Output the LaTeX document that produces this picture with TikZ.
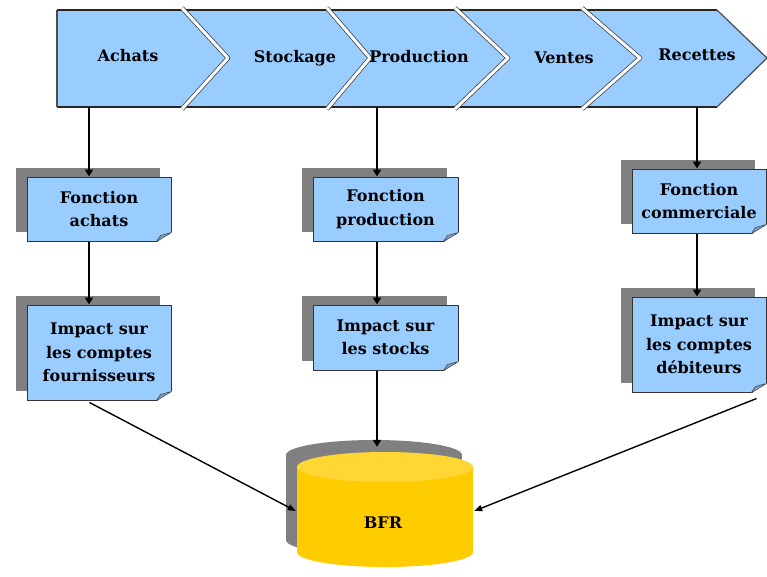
\documentclass[tikz,border=0pt]{standalone}
\usepackage{fontspec}
\setmainfont{DejaVu Serif}
\usetikzlibrary{arrows.meta,calc,shadows}
\definecolor{boxblue}{HTML}{99CCFF}
\definecolor{shgray}{HTML}{808080}
\definecolor{cylyel}{HTML}{FFCC00}
\definecolor{cyltop}{HTML}{FFD633}
\definecolor{folded}{HTML}{7FA3C8}
\begin{document}
\begin{tikzpicture}[x=1pt,y=-1pt,
  chev/.style={font=\bfseries\fontsize{16}{18}\selectfont, inner sep=1pt},
  boxstyle/.style={draw=black!80, line width=1pt, fill=boxblue, minimum width=144pt,
    minimum height=64pt, align=center, inner sep=2pt,
    font=\bfseries\fontsize{16}{23.5}\selectfont,
    general shadow={fill=shgray, shadow xshift=-11pt, shadow yshift=9pt}},
  arr/.style={line width=2.4pt, -{Triangle[length=7pt,width=8pt]}},
  darr/.style={line width=1.4pt, -{Triangle[length=8pt,width=6pt]}}]
\useasboundingbox (0,0) rectangle (767,576);

% chevron band
\fill[boxblue] (57,10) -- (717,10) -- (767,58) -- (717,107) -- (57,107) -- cycle;
\draw[line width=1.6pt, black!85] (57,10) -- (717,10);
\draw[line width=1.6pt, black!85] (57,107) -- (717,107);
\draw[line width=1.2pt, black!70] (717,10) -- (767,58) -- (717,107);
\draw[line width=1.2pt, black!70] (57,10) -- (57,107);
\foreach \a/\t in {182/228,327/370,455/508,582/640}{
  \draw[black!75, line width=4.5pt, line join=round] (\a,8) -- (\t,58) -- (\a,109);
  \draw[white, line width=3pt, line join=round] (\a,8) -- (\t,58) -- (\a,109);
}
\node[chev] (achats) at (128,56) {Achats};
\node[chev] (stock) at (295,58) {Stockage};
\node[chev] (prod) at (419,57) {Production};
\node[chev] (ventes) at (564,58) {Ventes};
\node[chev] (recettes) at (697,55) {Recettes};

\coordinate (c1) at (89,107);
\coordinate (c2) at (377,107);
\coordinate (c3) at (697,107);

% boxes
\node[boxstyle] (fa) at (99,209) {Fonction\\achats};
\node[boxstyle, minimum height=95pt] (ia) at (99,352.5) {Impact sur\\les comptes\\fournisseurs};
\node[boxstyle, minimum width=145pt] (fp) at (385.5,209) {Fonction\\production};
\node[boxstyle, minimum width=145pt, minimum height=65pt] (ip) at (385.5,337.5) {Impact sur\\les stocks};
\node[boxstyle, minimum width=134pt] (fc) at (699,201) {Fonction\\commerciale};
\node[boxstyle, minimum width=134pt, minimum height=95pt] (ic) at (699,344.5) {Impact sur\\les comptes\\débiteurs};

% folded corners
\foreach \n in {fa,ia,fp,ip,fc,ic}{
  \fill[white] ($(\n.south east)+(-15,1)$) -- ($(\n.south east)+(1,-10)$) -- ($(\n.south east)+(1,1)$) -- cycle;
  \filldraw[fill=folded, draw=black!70, line width=0.6pt, line join=round]
    ($(\n.south east)+(-15,0)$) -- ($(\n.south east)+(0,-9)$) -- ($(\n.south east)+(-11,-6)$) -- cycle;
}

% cylinder
\begin{scope}[shift={(-11,-12)}]
  \fill[shgray] (385,552) ellipse [x radius=88, y radius=15];
  \fill[shgray] (297,467) rectangle (473,552);
  \fill[shgray] (385,467) ellipse [x radius=88, y radius=15];
\end{scope}
\fill[cylyel] (385,552) ellipse [x radius=88, y radius=15];
\fill[cylyel] (297,467) rectangle (473,552);
\fill[cyltop] (385,467) ellipse [x radius=88, y radius=15];
\node[minimum width=178pt, minimum height=128pt, inner sep=0pt] (bfr) at (385,511) {};
\node[chev] (bfrtext) at (383,523) {BFR};

% connectors
\draw[arr] (c1) -- (c1 |- fa.north);
\draw[arr] (c1 |- fa.south) -- (c1 |- ia.north);
\draw[arr] (c2) -- (c2 |- fp.north);
\draw[arr] (c2 |- fp.south) -- (c2 |- ip.north);
\draw[arr] (c2 |- ip.south) -- (c2 |- bfr.north);
\draw[arr] (c3) -- (c3 |- fc.north);
\draw[arr] (c3 |- fc.south) -- (c3 |- ic.north);
\coordinate (s1) at ($(ia.south west)+(63,2)$);
\coordinate (s3) at ($(ic.south east)+(-10,6)$);
\draw[darr] (s1) -- (bfr.west);
\draw[darr] (s3) -- (bfr.east);
\end{tikzpicture}
\end{document}
